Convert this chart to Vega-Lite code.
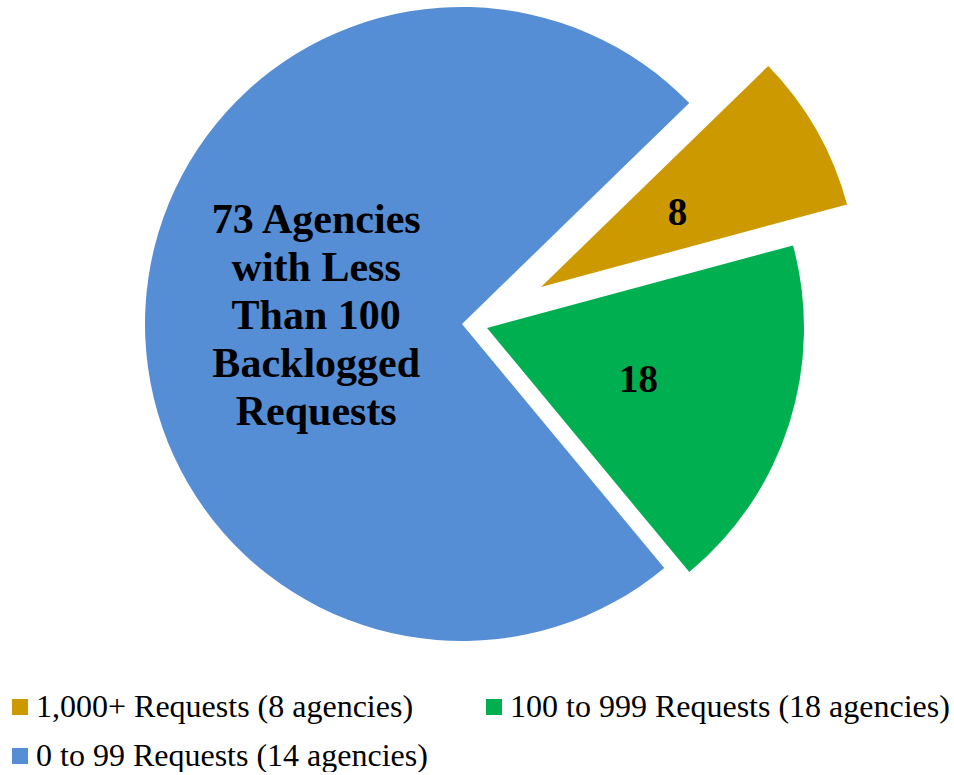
{
  "$schema": "https://vega.github.io/schema/vega-lite/v6.json",
  "width": 924,
  "height": 648,
  "padding": 0,
  "background": "white",
  "config": {"view": {"stroke": null}},
  "data": {"values": [
    {"cat": "1,000+ Requests (8 agencies)", "n": 8, "lab": "8"},
    {"cat": "100 to 999 Requests (18 agencies)", "n": 18, "lab": "18"},
    {"cat": "0 to 99 Requests (14 agencies)", "n": 73, "lab": "73 Agencies\nwith Less\nThan 100\nBacklogged\nRequests"}
  ]},
  "transform": [
    {"stack": "n", "groupby": [], "sort": [{"field": "n", "order": "ascending"}], "as": ["n0", "n1"]}
  ],
  "layer": [
    {
      "transform": [{"filter": "datum.cat === '0 to 99 Requests (14 agencies)'"}],
      "mark": {"type": "arc", "outerRadius": 317, "xOffset": 0, "yOffset": 0},
      "encoding": {
        "theta": {"field": "n0", "type": "quantitative", "scale": {"domain": [0, 99], "range": [0.7994, 7.0826]}},
        "theta2": {"field": "n1"},
        "color": {
          "field": "cat", "type": "nominal",
          "scale": {
            "domain": ["1,000+ Requests (8 agencies)", "100 to 999 Requests (18 agencies)", "0 to 99 Requests (14 agencies)"],
            "range": ["#CC9900", "#00B050", "#558ED5"]
          },
          "legend": {
            "orient": "none", "legendX": 4, "legendY": 691, "direction": "horizontal", "columns": 2,
            "columnPadding": 50, "rowPadding": 17, "symbolType": "square", "symbolSize": 256,
            "symbolStrokeWidth": 0, "symbolOpacity": 1, "labelFont": "Liberation Serif", "labelFontSize": 32,
            "labelColor": "#000", "labelLimit": 0, "labelOffset": 0, "title": null, "padding": 0
          }
        }
      }
    },
    {
      "transform": [{"filter": "datum.cat === '1,000+ Requests (8 agencies)'"}],
      "mark": {"type": "arc", "outerRadius": 317, "xOffset": 79, "yOffset": -37},
      "encoding": {
        "theta": {"field": "n0", "type": "quantitative"},
        "theta2": {"field": "n1"},
        "color": {"field": "cat", "type": "nominal"}
      }
    },
    {
      "transform": [{"filter": "datum.cat === '100 to 999 Requests (18 agencies)'"}],
      "mark": {"type": "arc", "outerRadius": 317, "xOffset": 25, "yOffset": 4},
      "encoding": {
        "theta": {"field": "n0", "type": "quantitative"},
        "theta2": {"field": "n1"},
        "color": {"field": "cat", "type": "nominal"}
      }
    },
    {
      "mark": {"type": "text", "radius": 146, "xOffset": 0, "yOffset": -96, "font": "Liberation Serif", "fontWeight": "bold", "fontSize": 42, "lineHeight": 48, "lineBreak": "\n", "color": "#000", "align": "center", "baseline": "middle"},
      "encoding": {
        "theta": {"field": "n", "type": "quantitative", "stack": true},
        "order": {"field": "n", "type": "quantitative", "sort": "ascending"},
        "detail": {"field": "cat", "type": "nominal"},
        "text": {"condition": {"test": "datum.cat === '0 to 99 Requests (14 agencies)'", "field": "lab", "type": "nominal"}, "value": ""}
      }
    },
    {
      "mark": {"type": "text", "radius": 156, "xOffset": 80, "yOffset": -34, "font": "Liberation Serif", "fontWeight": "bold", "fontSize": 39, "color": "#000", "align": "center", "baseline": "middle"},
      "encoding": {
        "theta": {"field": "n", "type": "quantitative", "stack": true},
        "order": {"field": "n", "type": "quantitative", "sort": "ascending"},
        "detail": {"field": "cat", "type": "nominal"},
        "text": {"condition": {"test": "datum.cat === '1,000+ Requests (8 agencies)'", "field": "lab", "type": "nominal"}, "value": ""}
      }
    },
    {
      "mark": {"type": "text", "radius": 159, "xOffset": 25, "yOffset": 8, "font": "Liberation Serif", "fontWeight": "bold", "fontSize": 39, "color": "#000", "align": "center", "baseline": "middle"},
      "encoding": {
        "theta": {"field": "n", "type": "quantitative", "stack": true},
        "order": {"field": "n", "type": "quantitative", "sort": "ascending"},
        "detail": {"field": "cat", "type": "nominal"},
        "text": {"condition": {"test": "datum.cat === '100 to 999 Requests (18 agencies)'", "field": "lab", "type": "nominal"}, "value": ""}
      }
    }
  ]
}
